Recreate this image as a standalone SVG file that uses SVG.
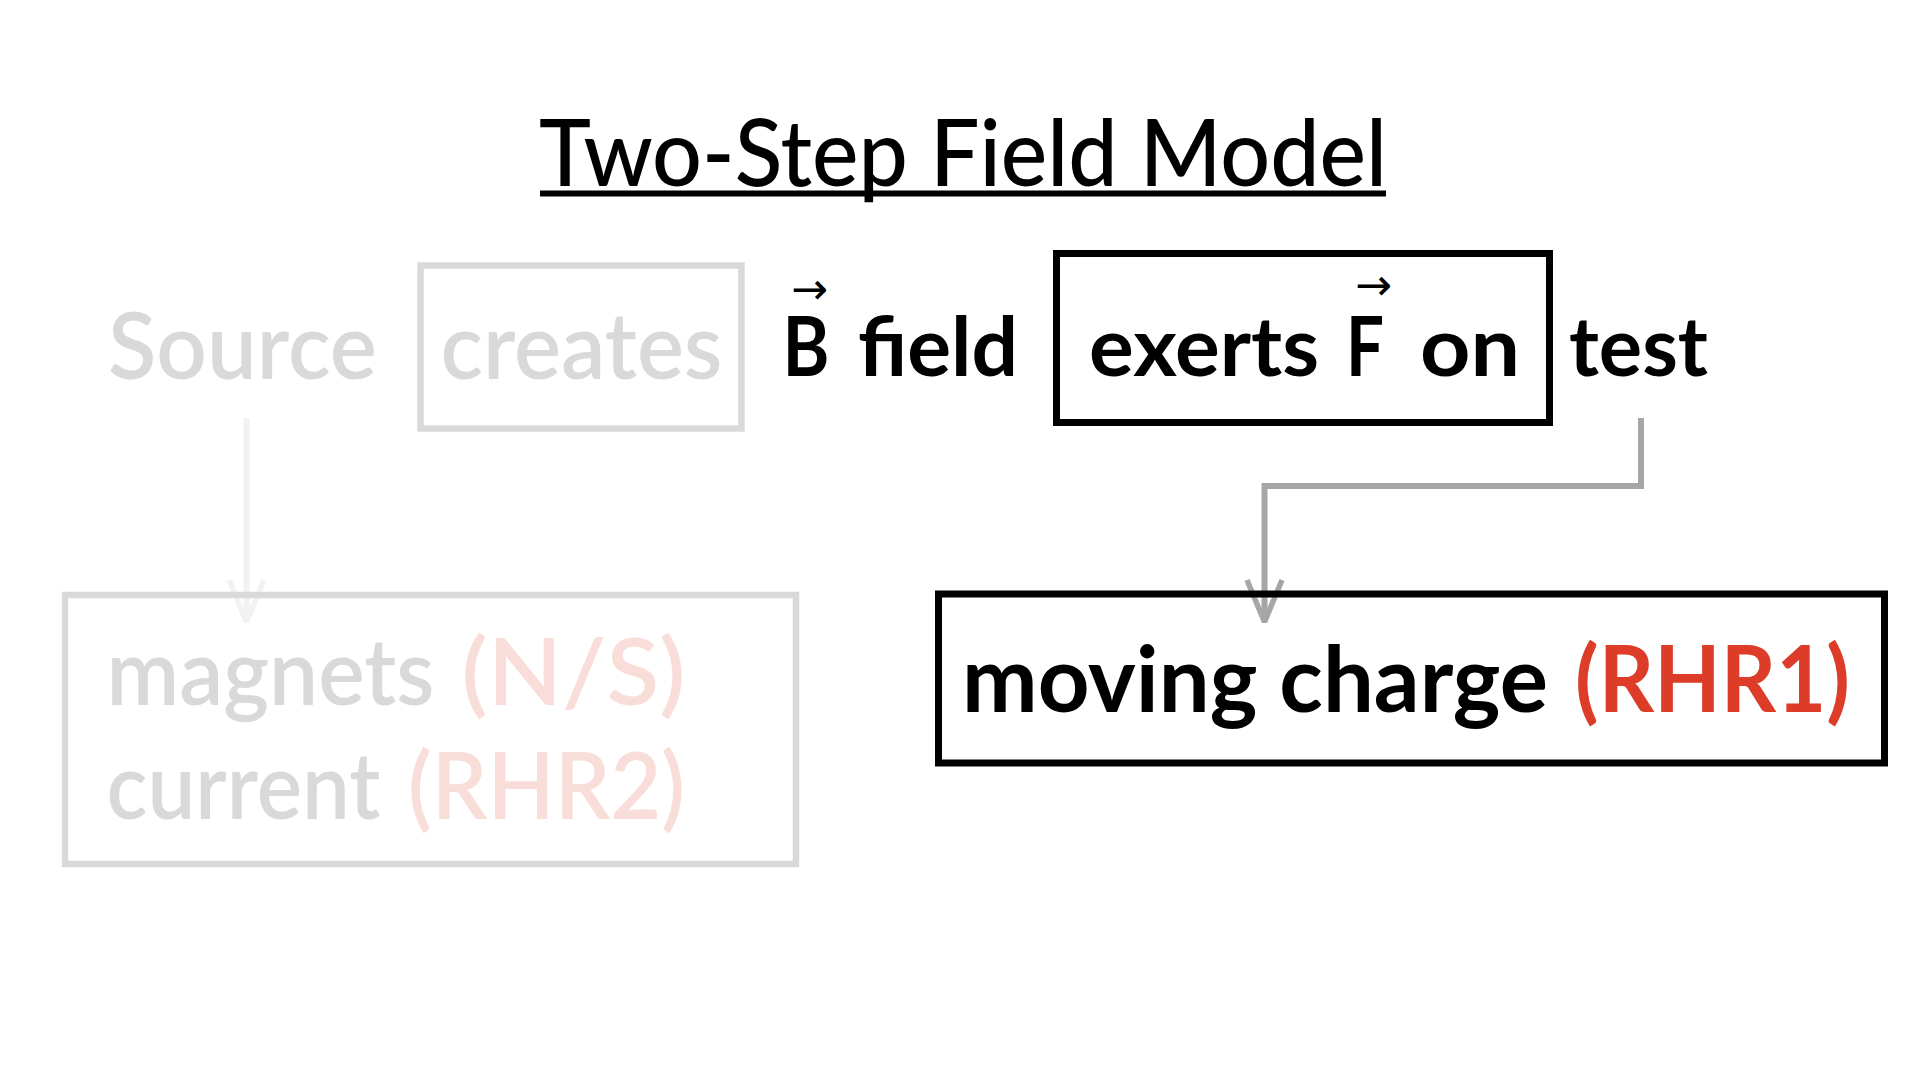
<svg xmlns="http://www.w3.org/2000/svg" width="1920" height="1080" viewBox="0 0 1920 1080">
  <defs>
    <style>
      .t { font-family: Lato, "Liberation Sans", "DejaVu Sans", sans-serif; }
      .title { font-size: 93px; font-weight: 500; fill: #000; }
      .gray { font-size: 92px; font-weight: 600; fill: #d9d9d9; }
      .pink { font-size: 92px; font-weight: 600; fill: #f8ddd9; }
      .blk { font-size: 83px; font-weight: 700; fill: #000; }
      .big { font-size: 91px; font-weight: 700; fill: #000; }
      .red { font-size: 91px; font-weight: 700; fill: #dc3c28; }
      .vec { font-family: "DejaVu Sans", sans-serif; font-size: 44px; font-weight: 400; }
      .boxg { fill: none; stroke: #d9d9d9; stroke-width: 6.5; }
      .boxk { fill: none; stroke: #000; stroke-width: 7; }
      .conn { fill: none; stroke-width: 6; stroke-linecap: butt; stroke-linejoin: miter; }
    </style>
    <marker id="arrLight" markerUnits="userSpaceOnUse" markerWidth="1" markerHeight="1" refX="0" refY="0" orient="auto" overflow="visible">
      <path d="M-42,-17.5 L0,0 L-42,17.5" fill="none" stroke="#f2f2f2" stroke-width="5.5" stroke-linejoin="bevel"/>
    </marker>
    <marker id="arrGray" markerUnits="userSpaceOnUse" markerWidth="1" markerHeight="1" refX="0" refY="0" orient="auto" overflow="visible">
      <path d="M-42,-17.5 L0,0 L-42,17.5" fill="none" stroke="#a6a6a6" stroke-width="5.5" stroke-linejoin="bevel"/>
    </marker>
  </defs>
  <rect x="0" y="0" width="1920" height="1080" fill="#ffffff"/>

  <g id="title">
    <text class="t title" x="539" y="186" textLength="848" lengthAdjust="spacingAndGlyphs">Two-Step Field Model</text>
    <line x1="540" y1="193.5" x2="1386" y2="193.5" stroke="#000" stroke-width="6"/>
  </g>

  <g id="connectors">
    <line class="conn" x1="246.5" y1="418" x2="246.5" y2="622" stroke="#f2f2f2" marker-end="url(#arrLight)"/>
    <polyline class="conn" points="1641,418 1641,486 1264.5,486 1264.5,622" stroke="#a6a6a6" marker-end="url(#arrGray)"/>
  </g>

  <g id="node-source">
    <text class="t gray" x="108" y="379" textLength="269" lengthAdjust="spacingAndGlyphs">Source</text>
  </g>

  <g id="node-creates">
    <rect class="boxg" x="420.5" y="265.5" width="321" height="163"/>
    <text class="t gray" x="440.5" y="379" textLength="282" lengthAdjust="spacingAndGlyphs">creates</text>
  </g>

  <g id="node-bfield">
    <text class="t blk"><tspan class="vec" x="791" y="304">→</tspan><tspan x="782.5" y="376" textLength="47" lengthAdjust="spacingAndGlyphs">B</tspan></text>
    <text class="t blk" x="858" y="376" textLength="160" lengthAdjust="spacingAndGlyphs">field</text>
  </g>

  <g id="node-exerts">
    <rect class="boxk" x="1056.5" y="253.5" width="493" height="169"/>
    <text class="t blk" x="1089" y="376" textLength="230" lengthAdjust="spacingAndGlyphs">exerts</text>
    <text class="t blk"><tspan class="vec" x="1355" y="300">→</tspan><tspan x="1346" y="376" textLength="38" lengthAdjust="spacingAndGlyphs">F</tspan></text>
    <text class="t blk" x="1420" y="376" textLength="100" lengthAdjust="spacingAndGlyphs">on</text>
  </g>

  <g id="node-test">
    <text class="t blk" x="1569" y="376" textLength="139" lengthAdjust="spacingAndGlyphs">test</text>
  </g>

  <g id="node-sources">
    <rect class="boxg" x="65" y="595" width="731" height="269"/>
    <text class="t gray" x="106.5" y="705" textLength="328" lengthAdjust="spacingAndGlyphs">magnets</text>
    <text class="t pink" x="461.5" y="705" textLength="224" lengthAdjust="spacingAndGlyphs">(N/S)</text>
    <text class="t gray" x="106.5" y="819" textLength="274" lengthAdjust="spacingAndGlyphs">current</text>
    <text class="t pink" x="408" y="819" textLength="277" lengthAdjust="spacingAndGlyphs">(RHR2)</text>
  </g>

  <g id="node-moving-charge">
    <rect class="boxk" x="938.5" y="594" width="946" height="169"/>
    <text class="t big" x="962" y="711.7" textLength="586" lengthAdjust="spacingAndGlyphs">moving charge</text>
    <text class="t red" x="1575" y="711.7" textLength="275" lengthAdjust="spacingAndGlyphs">(RHR1)</text>
  </g>
</svg>
